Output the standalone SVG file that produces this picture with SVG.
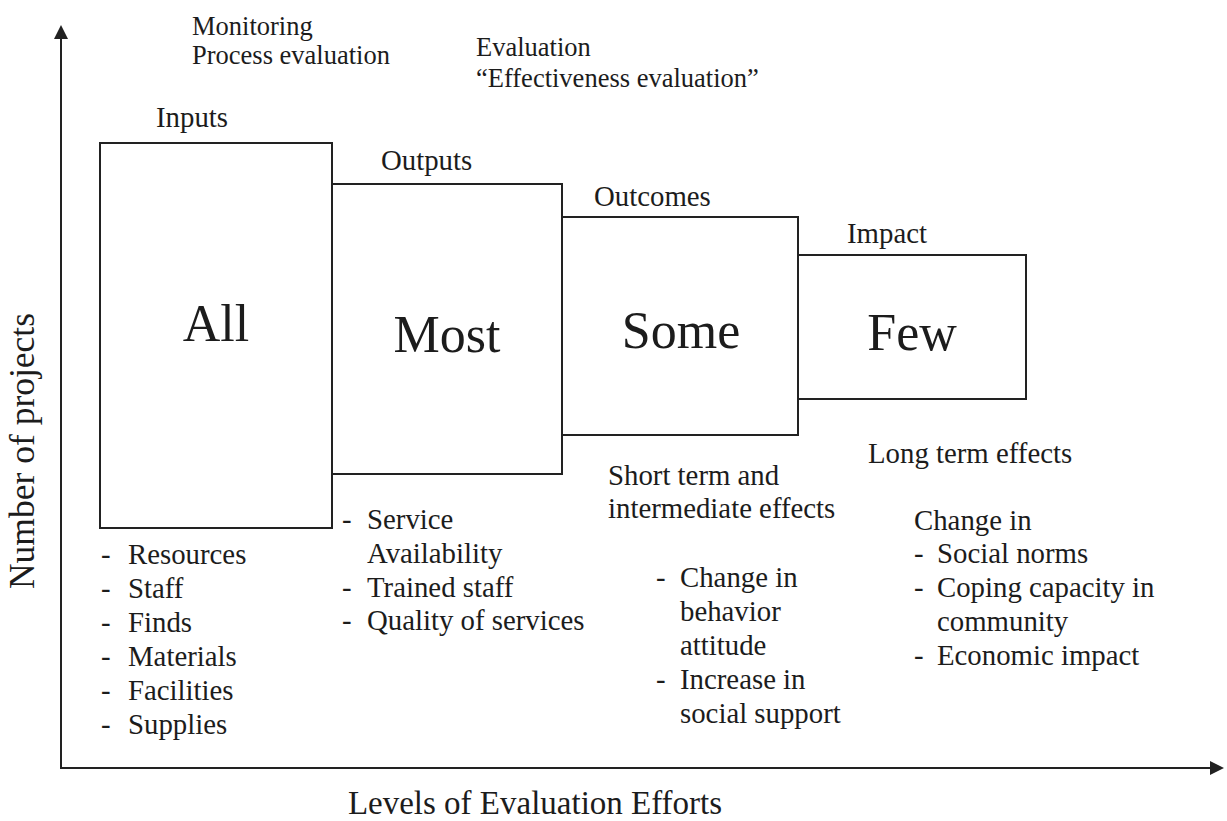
<svg xmlns="http://www.w3.org/2000/svg" width="1227" height="821" viewBox="0 0 1227 821">
  <style>
    text { font-family: "Liberation Serif", "Times New Roman", "DejaVu Serif", serif; fill: #1c1c1c; }
    .lbl { font-size: 28.8px; }
    .top { font-size: 26.5px; }
    .big { font-size: 52px; text-anchor: middle; }
    .axis { font-size: 33px; }
    .box { fill: none; stroke: #222; stroke-width: 2; }
    .ax { fill: none; stroke: #222; stroke-width: 2; }
  </style>
  <defs>
    <marker id="arrow" markerUnits="userSpaceOnUse" markerWidth="14" markerHeight="14" viewBox="0 0 14 14" refX="2" refY="7" orient="auto">
      <path d="M0,0 L14,7 L0,14 z" fill="#222"/>
    </marker>
  </defs>
  <rect width="1227" height="821" fill="#ffffff"/>

  <!-- axes -->
  <g id="connectors">
    <line class="ax" x1="61" y1="768" x2="61" y2="37" marker-end="url(#arrow)"/>
    <line class="ax" x1="60" y1="768" x2="1212" y2="768" marker-end="url(#arrow)"/>
  </g>

  <!-- axis titles -->
  <text class="axis" transform="translate(34,451) rotate(-90)" text-anchor="middle" style="font-size:35.5px">Number of projects</text>
  <text class="axis" x="535" y="814" text-anchor="middle">Levels of Evaluation Efforts</text>

  <!-- evaluation type headings -->
  <g id="monitoring">
    <text class="top" x="192" y="35">Monitoring</text>
    <text class="top" x="192" y="64">Process evaluation</text>
  </g>
  <g id="evaluation">
    <text class="top" x="476" y="56">Evaluation</text>
    <text class="top" x="476" y="87">“Effectiveness evaluation”</text>
  </g>

  <!-- Inputs -->
  <g id="inputs">
    <text class="lbl" x="156" y="127">Inputs</text>
    <rect class="box" x="100" y="143" width="232" height="385"/>
    <text class="big" x="216" y="341">All</text>
    <text class="lbl" x="101" y="564">-</text><text class="lbl" x="128" y="564">Resources</text>
    <text class="lbl" x="101" y="598">-</text><text class="lbl" x="128" y="598">Staff</text>
    <text class="lbl" x="101" y="632">-</text><text class="lbl" x="128" y="632">Finds</text>
    <text class="lbl" x="101" y="666">-</text><text class="lbl" x="128" y="666">Materials</text>
    <text class="lbl" x="101" y="700">-</text><text class="lbl" x="128" y="700">Facilities</text>
    <text class="lbl" x="101" y="734">-</text><text class="lbl" x="128" y="734">Supplies</text>
  </g>

  <!-- Outputs -->
  <g id="outputs">
    <text class="lbl" x="381" y="170">Outputs</text>
    <rect class="box" x="332" y="184" width="230" height="290"/>
    <text class="big" x="447" y="352">Most</text>
    <text class="lbl" x="342" y="529">-</text><text class="lbl" x="367" y="529">Service</text>
    <text class="lbl" x="367" y="563">Availability</text>
    <text class="lbl" x="342" y="597">-</text><text class="lbl" x="367" y="597">Trained staff</text>
    <text class="lbl" x="342" y="630">-</text><text class="lbl" x="367" y="630">Quality of services</text>
  </g>

  <!-- Outcomes -->
  <g id="outcomes">
    <text class="lbl" x="594" y="206">Outcomes</text>
    <rect class="box" x="562" y="217" width="236" height="218"/>
    <text class="big" x="681" y="348">Some</text>
    <text class="lbl" x="608" y="485">Short term and</text>
    <text class="lbl" x="608" y="518">intermediate effects</text>
    <text class="lbl" x="656" y="587">-</text><text class="lbl" x="680" y="587">Change in</text>
    <text class="lbl" x="680" y="621">behavior</text>
    <text class="lbl" x="680" y="655">attitude</text>
    <text class="lbl" x="656" y="689">-</text><text class="lbl" x="680" y="689">Increase in</text>
    <text class="lbl" x="680" y="723">social support</text>
  </g>

  <!-- Impact -->
  <g id="impact">
    <text class="lbl" x="847" y="243">Impact</text>
    <rect class="box" x="798" y="255" width="228" height="144"/>
    <text class="big" x="912" y="350">Few</text>
    <text class="lbl" x="868" y="463">Long term effects</text>
    <text class="lbl" x="914" y="530">Change in</text>
    <text class="lbl" x="914" y="563">-</text><text class="lbl" x="937" y="563">Social norms</text>
    <text class="lbl" x="914" y="597">-</text><text class="lbl" x="937" y="597">Coping capacity in</text>
    <text class="lbl" x="937" y="631">community</text>
    <text class="lbl" x="914" y="665">-</text><text class="lbl" x="937" y="665">Economic impact</text>
  </g>
</svg>
